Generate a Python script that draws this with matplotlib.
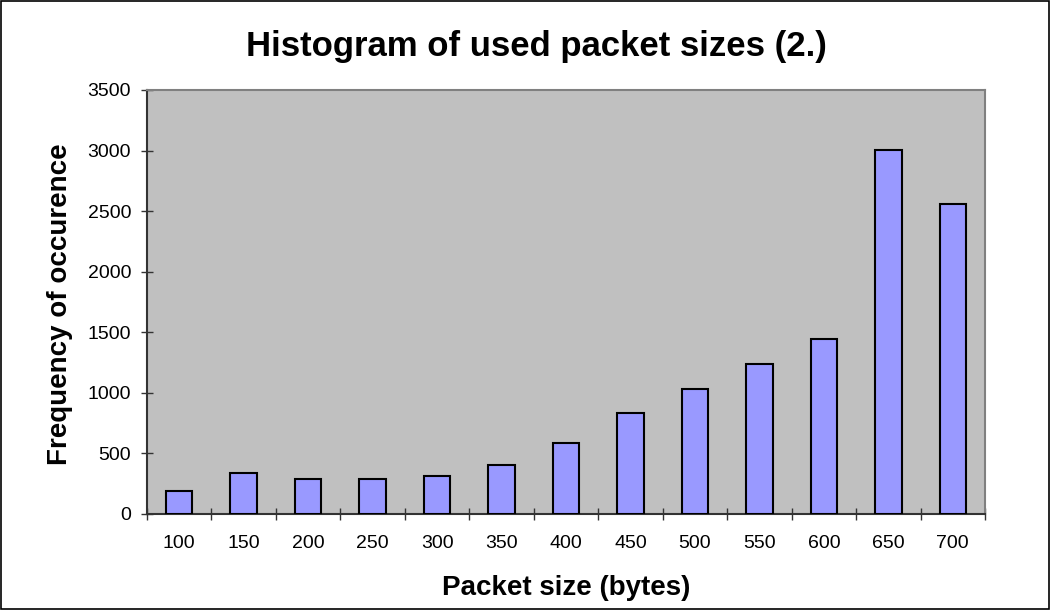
import numpy as np
import matplotlib.pyplot as plt
from matplotlib.patches import Rectangle

plt.rcParams['font.family'] = ['Liberation Sans', 'DejaVu Sans']

sizes = ['100', '150', '200', '250', '300', '350', '400', '450', '500', '550', '600', '650', '700']
freq = [190, 338, 286, 288, 316, 401, 585, 830, 1028, 1239, 1445, 3005, 2556]

fig = plt.figure(figsize=(10.5, 6.1), dpi=100)
fig.patch.set_facecolor('white')
fig.patches.append(Rectangle((0.001, 0.0015), 0.998, 0.997, transform=fig.transFigure,
                             fill=False, edgecolor='black', linewidth=1.2))

ax = fig.add_axes([147 / 1050, 1 - 514 / 610, (985 - 147) / 1050, (514 - 90) / 610])
ax.set_facecolor('#C0C0C0')

x = np.arange(len(sizes))
ax.bar(x, freq, width=0.41, color='#9999FF', edgecolor='black', linewidth=1.5, zorder=3)

ax.set_xlim(-0.5, len(sizes) - 0.5)
ax.set_ylim(0, 3500)
ax.set_yticks(np.arange(0, 3501, 500))
ax.set_xticks(x)
ax.set_xticklabels(sizes)
ax.set_xticks(np.arange(-0.5, len(sizes)), minor=True)

ax.tick_params(axis='x', which='major', length=0, pad=15, labelsize=14)
ax.tick_params(axis='x', which='minor', direction='inout', length=9, width=1, color='#333333')
ax.tick_params(axis='y', direction='inout', length=9, width=1, color='#333333', pad=7, labelsize=14)

for side in ['top', 'right']:
    ax.spines[side].set_color('#808080')
    ax.spines[side].set_linewidth(1.5)
for side in ['left', 'bottom']:
    ax.spines[side].set_color('#333333')
    ax.spines[side].set_linewidth(1.5)

fig.text(536 / 1050, 1 - 56 / 610, 'Histogram of used packet sizes (2.)', ha='center', va='baseline',
         fontsize=25, fontweight='bold')
fig.text(566 / 1050, 1 - 595 / 610, 'Packet size (bytes)', ha='center', va='baseline',
         fontsize=20, fontweight='bold')
fig.text(60 / 1050, 1 - 304 / 610, 'Frequency of occurence', ha='center', va='center',
         rotation=90, fontsize=20, fontweight='bold')

plt.savefig('out.png', dpi=100)
